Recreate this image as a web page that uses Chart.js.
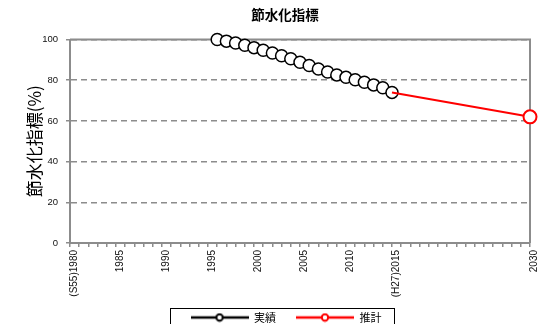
<!DOCTYPE html>
<html lang="ja">
<head>
<meta charset="utf-8">
<title>節水化指標</title>
<script src="https://cdn.jsdelivr.net/npm/chart.js@4.4.0/dist/chart.umd.min.js"></script>
<style>
    html, body { margin: 0; padding: 0; background: #fff; }
    .wrap { width: 550px; height: 324px; overflow: hidden; }
    canvas { display: block; }
</style>
</head>
<body>
<div class="wrap">
    <canvas id="waterChart" width="550" height="339"></canvas>
</div>
<script>
// 実績 (1996-2015)
const actualYears = [1996, 1997, 1998, 1999, 2000, 2001, 2002, 2003, 2004, 2005,
                     2006, 2007, 2008, 2009, 2010, 2011, 2012, 2013, 2014, 2015];
const actualValues = [100, 99.2, 98.3, 97.2, 96, 94.7, 93.4, 92, 90.5, 88.8,
                      87.2, 85.5, 84, 82.6, 81.4, 80.2, 79, 77.7, 76.3, 74];

// 推計 (2015 -> 2030)
const forecastYears = [2015, 2030];
const forecastValues = [74, 62];

// labelled years on the x axis
const tickYears = [1980, 1985, 1990, 1995, 2000, 2005, 2010, 2015, 2030];
const tickLabels = ['(S55)1980', '1985', '1990', '1995', '2000', '2005', '2010', '(H27)2015', '2030'];

const GRAY = '#8c8c8c';
const JP_FONT = '"Noto Sans CJK JP", "Noto Sans", sans-serif';
const NUM_FONT = '"Liberation Sans", Arial, sans-serif';

const toPoints = (xs, ys) => xs.map((x, i) => ({ x: x, y: ys[i] }));

// legend swatch: short line with an open circle in the middle
function legendSwatch(color) {
    const c = document.createElement('canvas');
    c.width = 58;
    c.height = 10;
    const g = c.getContext('2d');
    g.strokeStyle = color;
    g.lineWidth = 2.5;
    g.beginPath();
    g.moveTo(0, 5);
    g.lineTo(58, 5);
    g.stroke();
    g.fillStyle = '#fff';
    g.lineWidth = 2;
    g.beginPath();
    g.arc(29, 5, 3.2, 0, Math.PI * 2);
    g.fill();
    g.stroke();
    return c;
}

// nudge title and legend, frame the plot and the legend
const framePlugin = {
    id: 'frame',
    afterLayout(chart) {
        chart.titleBlock.left += 8;
        chart.titleBlock.right += 8;
        const lg = chart.legend;
        lg.left += 9;
        lg.right += 9;
        lg.top -= 6;
        lg.bottom -= 6;
    },
    beforeDatasetsDraw(chart) {
        const { ctx, chartArea: a } = chart;
        ctx.save();
        ctx.strokeStyle = GRAY;
        ctx.lineWidth = 2;
        ctx.beginPath();
        ctx.moveTo(a.left, a.top);
        ctx.lineTo(a.right, a.top);
        ctx.lineTo(a.right, a.bottom);
        ctx.stroke();
        ctx.restore();
    },
    afterDraw(chart) {
        const boxes = chart.legend.legendHitBoxes;
        if (!boxes || !boxes.length) return;
        const left = Math.min(...boxes.map(b => b.left)) - 21;
        const right = Math.max(...boxes.map(b => b.left + b.width)) + 12;
        const top = boxes[0].top - 4;
        const { ctx } = chart;
        ctx.save();
        ctx.strokeStyle = '#000';
        ctx.lineWidth = 1;
        ctx.strokeRect(Math.round(left) + 0.5, Math.round(top) + 0.5, Math.round(right - left), 60);
        ctx.restore();
    }
};

const swatches = [legendSwatch('#ff0000'), legendSwatch('#000000')];

new Chart(document.getElementById('waterChart'), {
    type: 'line',
    data: {
        datasets: [{
            label: '推計',
            data: toPoints(forecastYears, forecastValues),
            borderColor: '#ff0000',
            borderWidth: 2,
            pointRadius: [0, 6.5],
            pointBorderWidth: 2,
            pointBorderColor: '#ff0000',
            pointBackgroundColor: '#fff',
            clip: false
        }, {
            label: '実績',
            data: toPoints(actualYears, actualValues),
            borderColor: '#000',
            borderWidth: 2,
            pointRadius: 6,
            pointBorderWidth: 1.5,
            pointBorderColor: '#000',
            pointBackgroundColor: '#fff',
            clip: false
        }]
    },
    options: {
        responsive: false,
        animation: false,
        layout: { padding: { left: 24, right: 20, top: 0, bottom: 0 } },
        plugins: {
            title: {
                display: true,
                text: '節水化指標',
                color: '#000',
                font: { family: JP_FONT, size: 13.5, weight: 'bold' },
                padding: { top: 7, bottom: 16.3 }
            },
            legend: {
                position: 'bottom',
                labels: {
                    color: '#000',
                    font: { family: JP_FONT, size: 11 },
                    usePointStyle: true,
                    pointStyleWidth: 58,
                    padding: 20,
                    sort: (a, b) => b.datasetIndex - a.datasetIndex,
                    generateLabels(chart) {
                        const items = Chart.defaults.plugins.legend.labels.generateLabels(chart);
                        items.forEach(item => { item.pointStyle = swatches[item.datasetIndex]; });
                        return items;
                    }
                }
            },
            tooltip: { enabled: false }
        },
        scales: {
            x: {
                type: 'linear',
                min: 1980,
                max: 2030,
                afterFit(scale) { scale.height = 55; },
                border: { color: GRAY, width: 2 },
                grid: {
                    drawOnChartArea: false,
                    drawTicks: true,
                    tickLength: 4,
                    color: GRAY,
                    lineWidth: 1.5
                },
                ticks: {
                    stepSize: 1,
                    autoSkip: false,
                    minRotation: 90,
                    maxRotation: 90,
                    padding: 3,
                    labelOffset: 4,
                    color: '#111',
                    font: { family: NUM_FONT, size: 10 },
                    callback(value) {
                        const i = tickYears.indexOf(value);
                        return i >= 0 ? tickLabels[i] : '';
                    }
                }
            },
            y: {
                min: 0,
                max: 100,
                afterFit(scale) { scale.width = 46; },
                border: { color: GRAY, width: 2, dash: [6, 4] },
                grid: {
                    color: GRAY,
                    lineWidth: 1.5,
                    tickLength: 4
                },
                ticks: {
                    stepSize: 20,
                    padding: 8,
                    color: '#111',
                    font: { family: NUM_FONT, size: 9.5 }
                },
                title: {
                    display: true,
                    text: '節水化指標(%)',
                    color: '#000',
                    font: { family: JP_FONT, size: 17 },
                    padding: { top: 0, bottom: 0 }
                }
            }
        }
    },
    plugins: [framePlugin]
});
</script>
</body>
</html>
